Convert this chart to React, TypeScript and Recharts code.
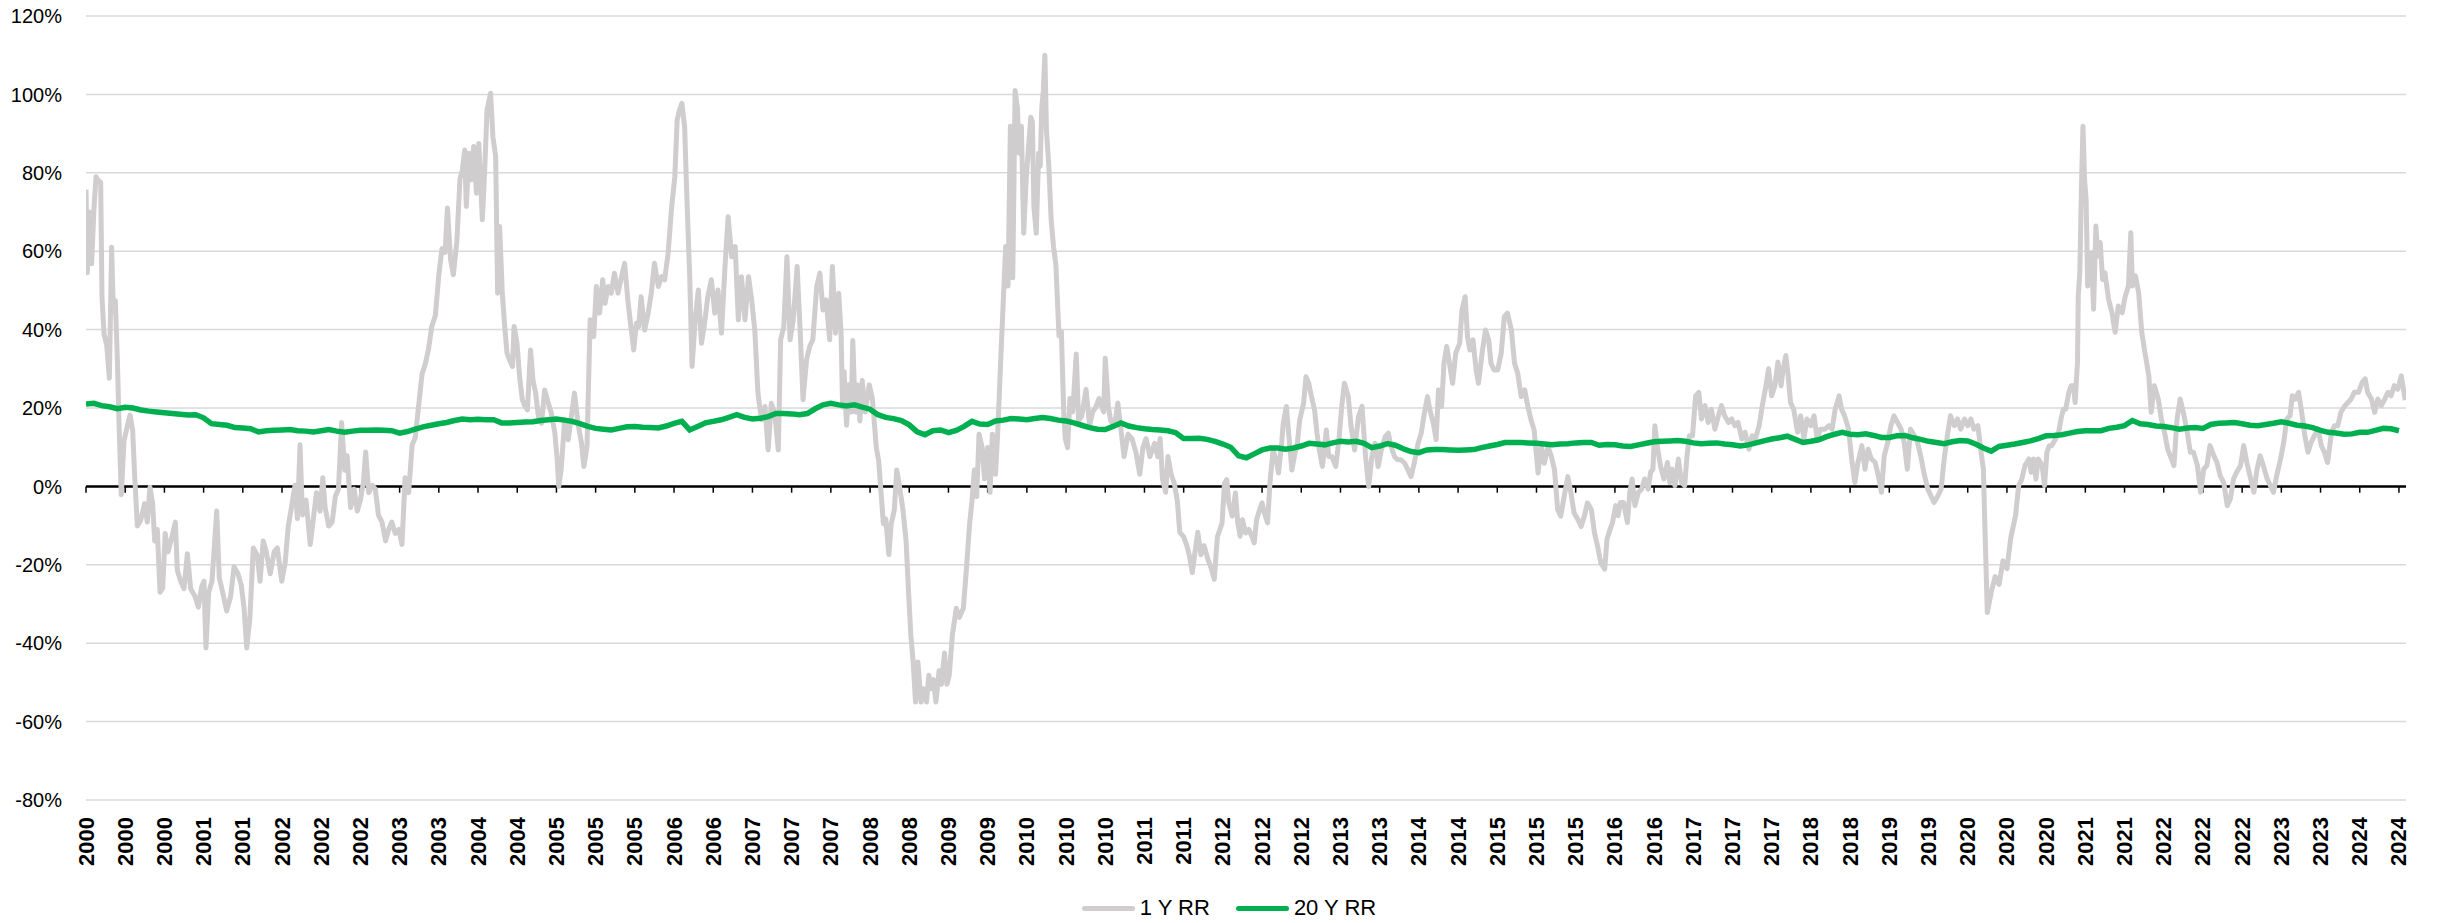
import { CartesianGrid, Legend, Line, LineChart, ReferenceLine, XAxis, YAxis } from "recharts";

document.body.style.margin = "0";

const START_YEAR = 2000;
const FONT = "'Liberation Sans', Arial, sans-serif";

// y axis (percent)
const yTicks = [-80, -60, -40, -20, 0, 20, 40, 60, 80, 100, 120];

// x axis: months since Jan 2000, a tick every 5 months
const monthTicks = Array.from({ length: 60 }, (_, i) => i * 5);

// 1 Y rolling return, [months since Jan 2000, %]
const oneYearRR: [number, number][] = [
  [0, 75.7], [0.17, 54.5], [0.43, 70], [0.72, 56.8], [1.02, 71], [1.28, 79], [1.57, 78], [1.87, 77.6], [2.04, 48.4], [2.3, 38.9],
  [2.64, 36.1], [2.98, 27.6], [3.27, 61], [3.49, 44.6], [3.74, 47.4], [4.0, 32.3], [4.25, 13.5], [4.5, -2.1], [4.85, 11.6], [5.27, 15.4],
  [5.61, 18.2], [5.95, 14.4], [6.2, 3.1], [6.55, -10.1], [6.97, -8.7], [7.48, -4.4], [7.82, -9.1], [8.16, -0.2], [8.5, -4.4], [8.76, -13.9],
  [9.1, -11], [9.44, -27], [9.78, -26], [10.1, -12], [10.46, -16.7], [10.97, -12.9], [11.4, -9.1], [11.65, -21.4], [12.07, -24.2], [12.5, -26.1],
  [12.93, -17.2], [13.35, -26.1], [13.9, -28], [14.33, -30.8], [14.75, -25.6], [15.05, -24.2], [15.3, -41.2], [15.65, -27], [16.07, -24.2], [16.45, -12.9],
  [16.67, -6.3], [17, -23.3], [17.43, -27], [17.94, -31.8], [18.45, -28], [18.88, -20.5], [19.39, -22.3], [19.8, -25.2], [20.15, -30.8], [20.5, -41.2],
  [20.9, -33.6], [21.34, -15.7], [21.85, -17.6], [22.2, -24.2], [22.6, -13.9], [23, -16.7], [23.5, -22.3], [24, -16.7], [24.4, -15.7], [24.96, -24.2],
  [25.4, -19.5], [25.8, -10.1], [26.2, -5.4], [26.66, 0.3], [26.96, -8.2], [27.3, 10.6], [27.6, -7.3], [28.06, -3.5], [28.6, -14.8], [29, -8.2],
  [29.4, -1.6], [29.85, -6.3], [30.2, 2.2], [30.5, -5.4], [30.95, -10.1], [31.4, -9.1], [31.8, -2.5], [32.2, -0.7], [32.6, 16.3], [33, 4.1],
  [33.3, 7.8], [33.75, -5.4], [34.2, -0.7], [34.6, -6.3], [35, -3.5], [35.4, 1.2], [35.67, 8.8], [36.05, -1.6], [36.5, 0.3], [36.9, -0.7],
  [37.3, -7.3], [37.75, -9.1], [38.2, -13.9], [38.6, -11], [39, -9.1], [39.45, -12], [39.9, -11], [40.3, -14.8], [40.7, 2.2], [41.15, -1.6],
  [41.6, 10.6], [42, 12.5], [42.4, 20.1], [42.86, 28.6], [43.3, 31.4], [43.7, 35.2], [44.1, 40.8], [44.56, 43.6], [45, 54], [45.4, 60.6],
  [45.8, 59.7], [46.1, 71], [46.5, 57.8], [46.85, 54], [47.3, 62.5], [47.7, 78.5],
  [48, 80.7], [48.3, 85.8], [48.5, 71.4], [48.85, 85], [49.15, 78.2], [49.45, 86.7], [49.8, 74.8], [50.1, 87.5], [50.55, 68], [50.85, 80.7],
  [51.15, 96], [51.6, 100.3], [51.9, 89.2], [52.25, 84.1], [52.5, 49.3], [52.75, 66.3], [53.1, 49.3], [53.4, 40.8], [53.7, 34], [54, 32.3],
  [54.4, 30.6], [54.6, 40.8], [54.97, 36.5], [55.3, 28], [55.65, 22.1], [56, 20.4], [56.3, 19.5], [56.7, 34.8], [57, 27.2], [57.35, 23.8],
  [57.7, 17.8], [58.1, 16.1], [58.5, 24.6], [58.97, 21.2], [59.35, 18.7], [59.8, 13.6], [60.1, 6.8], [60.3, 0], [60.6, 4.2], [61.05, 17],
  [61.5, 11.9], [61.9, 17.8], [62.3, 23.8], [62.75, 16.1], [63.2, 11], [63.5, 5.1], [63.9, 10.2], [64.3, 42.5], [64.75, 38.2], [65.1, 51],
  [65.5, 44.2], [65.9, 52.7], [66.2, 46.7], [66.6, 51], [67, 49.3], [67.4, 54.4], [67.85, 49.3], [68.3, 53.5], [68.7, 56.9], [69.1, 47.6],
  [69.55, 39.9], [69.85, 34.8], [70.2, 41.6], [70.5, 40.8], [70.8, 48.4], [71.25, 39.9], [71.7, 44.2], [72.1, 49.3], [72.5, 56.9], [73, 51],
  [73.4, 53.5], [73.8, 52.7], [74.25, 59.5], [74.66, 70.5], [75.1, 79], [75.4, 93.5], [75.7, 96], [76, 97.7], [76.35, 91.8], [76.65, 73.1],
  [77, 53.5], [77.3, 30.6], [77.7, 42.5], [78.1, 50.1], [78.5, 36.5], [78.9, 41.6], [79.3, 48.4], [79.76, 52.7], [80.2, 44.2], [80.6, 50.1],
  [81.05, 39.1], [81.5, 56.1], [81.9, 68.8], [82.35, 58.6], [82.8, 61.2], [83.2, 42.5], [83.6, 53.5], [84.05, 42.5], [84.5, 53.5], [84.9, 47.6],
  [85.3, 39.9], [85.7, 23.8], [86.15, 17], [86.6, 20.4], [87, 9.3], [87.4, 21.2], [87.84, 18.7], [88.3, 9.3], [88.6, 37.4], [89, 40.8],
  [89.4, 58.6], [89.8, 37.4], [90.2, 42.5], [90.7, 56.1], [91.1, 39.1], [91.45, 22.1], [91.9, 32.3], [92.3, 35.7], [92.7, 37.4], [93.2, 51],
  [93.6, 54.4], [94, 45], [94.4, 47.6], [94.85, 37.4], [95.2, 56.1], [95.6, 39.1], [96, 49.3],
  [96.3, 39.5], [96.5, 20.2], [96.7, 29.3], [97, 15.6], [97.3, 25.9], [97.6, 19], [97.8, 37.2], [98.1, 19], [98.4, 25.9], [98.7, 16.7],
  [99, 27], [99.4, 19], [99.9, 25.9], [100.3, 22.4], [100.8, 9.9], [101.1, 6.5], [101.4, -1.5], [101.7, -9.5], [102, -8.3], [102.4, -17.4],
  [102.7, -9.5], [103.1, -6], [103.4, 4.2], [103.7, 0.8], [104.2, -6], [104.6, -14], [104.9, -26.5], [105.2, -37.9], [105.5, -44.8], [105.8, -55],
  [106.1, -44.8], [106.5, -55], [106.8, -51.6], [107.2, -55], [107.5, -48.2], [107.8, -51.6], [108.1, -49.3], [108.4, -55], [108.8, -47], [109.1, -50.5],
  [109.5, -42.5], [109.8, -50.5], [110.1, -48.2], [110.5, -37.9], [111, -31.1], [111.4, -33.4], [111.9, -31.1], [112.3, -20.8], [112.7, -9.5], [113, -3.8],
  [113.3, 4.2], [113.6, -2.6], [113.9, 13.3], [114.3, 9.9], [114.6, 1.9], [115, 9.9], [115.3, -1.5], [115.6, 13.3], [116, 3.1], [116.3, 14.5],
  [116.7, 33.8], [117, 47.5], [117.3, 61.2], [117.6, 51.1], [117.9, 91.9], [118.2, 53.2], [118.5, 101], [118.8, 96.5], [119, 85], [119.3, 91.9],
  [119.6, 64.6], [119.9, 78.2], [120.2, 86.2], [120.5, 94.2], [120.7, 93], [120.9, 71.4], [121.2, 64.6], [121.5, 85], [121.7, 81.7], [121.9, 96.5],
  [122.1, 101], [122.3, 110], [122.5, 90.8], [122.8, 81.7], [123.1, 68], [123.4, 61.2], [123.7, 56.6], [124.1, 38.4], [124.4, 39.5], [124.7, 19],
  [124.9, 12.2], [125.2, 9.9], [125.5, 22.4], [125.85, 19], [126.3, 33.8], [126.6, 16.7], [127, 17.9], [127.55, 24.7], [128, 15.6], [128.4, 19],
  [128.8, 20.2], [129.2, 22.4], [129.8, 19], [130, 32.7], [130.4, 20.2], [130.7, 16.7], [131.2, 15.6], [131.6, 21.3], [132, 14.5], [132.4, 7.6],
  [132.9, 13.3], [133.4, 12.2], [133.9, 8.8], [134.4, 3.1], [134.8, 9.9], [135.2, 12.2], [135.7, 7.6], [136.3, 11], [136.7, 7.6], [137, 12.2],
  [137.3, 1.9], [137.7, -1.5], [138, 7.6], [138.4, 3.1], [138.8, 0.8], [139.2, -3.8], [139.5, -11.7], [140, -12.9], [140.4, -15.1], [140.7, -17.4],
  [141.1, -22], [141.4, -17.4], [141.8, -11.7], [142.2, -17.4], [142.6, -15.1], [143.1, -18.6], [143.5, -20.8], [143.9, -23.7], [144.3, -12.9],
  [144.9, -9.3], [145.2, 0.8], [145.5, 1.7], [145.75, -4.2], [146.2, -7.6], [146.6, -1.7], [146.9, -9.3], [147.2, -12.7], [147.5, -8.5], [147.9, -11.9],
  [148.3, -11], [148.7, -12.7], [149, -14.4], [149.3, -8.5], [149.7, -5.9], [150, -4.2], [150.3, -6.8], [150.7, -9.3], [151, 0.8], [151.4, 9.3],
  [151.8, 6.8], [152.1, 3.4], [152.5, 11], [152.7, 16.1], [153.1, 20.4], [153.5, 11], [153.8, 4.2], [154.2, 8.5], [154.5, 11], [154.8, 17],
  [155.3, 21.2], [155.6, 28], [155.95, 26.3], [156.3, 22.9], [156.7, 19.5], [157, 13.6], [157.3, 9.3], [157.7, 5.1], [158.2, 14.4], [158.5, 7.6],
  [158.9, 7.6], [159.4, 5.1], [159.8, 11.9], [160.2, 21.2], [160.5, 26.3], [161, 22.9], [161.35, 15.3], [161.8, 9.3], [162.3, 17.8], [162.75, 20.4],
  [163.2, 7.6], [163.6, 0], [164, 7.6], [164.4, 11], [164.8, 5.1], [165.2, 9.3], [165.7, 12.7], [166.1, 13.6], [166.45, 10.2], [166.9, 7.6],
  [167.3, 6.8], [167.7, 6.8], [168.2, 5.9], [168.6, 4.2], [169, 2.5], [169.4, 5.9], [169.9, 11], [170.3, 13.6], [170.7, 18.7], [171.1, 22.9],
  [171.4, 19.5], [171.85, 16.1], [172.2, 11.9], [172.5, 24.6], [172.9, 20.4], [173.2, 31.4], [173.55, 35.7], [173.9, 31.4], [174.3, 26.3], [174.7, 34],
  [175.2, 36.5], [175.5, 45], [175.9, 48.4], [176.2, 38.2], [176.5, 34.8], [176.9, 37.4], [177.3, 29.7], [177.6, 26.3], [178.06, 34], [178.5, 39.9],
  [178.9, 37.4], [179.2, 31.4], [179.6, 29.7], [180.05, 29.7], [180.5, 34], [180.9, 43.3], [181.3, 44.2], [181.8, 39.9], [182.2, 31.4], [182.6, 28.9],
  [183.05, 22.9], [183.5, 24.6], [183.9, 20.4], [184.3, 17], [184.7, 14.4], [185.2, 3.4], [185.6, 10.2], [186, 5.9], [186.45, 10.2], [186.9, 7.6],
  [187.3, 4.2], [187.7, -5.9], [188.1, -7.6], [188.6, -1.7], [189, 2.5], [189.4, -1.7], [189.8, -6.8], [190.3, -8.5], [190.7, -10.2], [191.1, -7.6],
  [191.5, -4.2], [192, -5.9], [192.4, -11.9], [192.8, -15.3], [193.2, -19.5],
  [193.7, -21.1], [194, -13.4], [194.4, -10.9], [194.7, -9.2], [195.1, -4.9], [195.4, -7.5], [195.7, -4.1], [196.1, -4.1], [196.6, -9.2], [196.9, -1.5],
  [197.2, 1.9], [197.55, -4.9], [198, -1.5], [198.4, -0.7], [198.8, 1.9], [199.25, -0.7], [199.55, 3.6], [199.85, 4.4], [200.1, 15.5], [200.4, 10.4],
  [200.8, 5.3], [201.25, 1.9], [201.7, 6.1], [202, 1], [202.3, 4.4], [202.65, 0.2], [203.1, 7], [203.5, 1], [203.9, 0.2], [204.2, 7.8],
  [204.5, 12.9], [204.9, 12.9], [205.3, 23.1], [205.7, 24], [206.05, 17.2], [206.5, 20.6], [206.9, 16.3], [207.3, 19.7], [207.75, 14.6], [208.2, 18],
  [208.6, 20.6], [209, 18], [209.5, 16.3], [209.9, 17.2], [210.3, 15.5], [210.7, 16.3], [211.2, 12.1], [211.6, 13.8], [212.1, 9.5], [212.5, 12.9],
  [212.9, 12.1], [213.4, 15.5], [213.8, 20.6], [214.2, 24.9], [214.6, 30], [215, 23.1], [215.4, 25.7], [215.8, 31.7], [216.2, 25.7], [216.4, 29.1],
  [216.8, 33.4], [217.1, 28.3], [217.4, 21.4], [217.8, 19.7], [218.3, 13.8], [218.7, 18], [219.1, 12.1], [219.5, 17.2], [220, 15.5], [220.4, 18],
  [220.8, 12.1], [221.2, 14.6], [221.8, 14.6], [222.3, 15.5], [222.7, 14.6], [223.1, 19.7], [223.6, 23.1], [223.9, 19.7], [224.3, 18], [224.8, 14.6],
  [225.2, 7], [225.6, 1], [226, 6.1], [226.5, 10.4], [226.9, 4.4], [227.3, 9.5], [227.7, 7], [228.2, 6.1], [228.6, 2.7], [229, -1.5],
  [229.35, 7.8], [229.8, 11.2], [230.2, 15.5], [230.6, 18], [231.05, 16.3], [231.5, 14.6], [231.9, 11.2], [232.3, 4.4], [232.7, 14.6], [233.2, 12.9],
  [233.6, 11.2], [234, 7.8], [234.4, 3.6], [234.9, -0.7], [235.3, -2.4], [235.7, -4.1], [236.2, -2.4], [236.6, -0.7], [237, 7], [237.4, 12.9],
  [237.8, 18], [238.3, 15.5], [238.7, 17.2], [239.1, 14.6], [239.6, 17.2], [240, 15.5], [240.4, 17.2], [240.8, 14.6], [241.3, 15.5], [241.7, 8.7],
  [242, 4.4], [242.2, -10.9], [242.5, -32.2], [243, -27], [243.5, -23], [244, -25], [244.5, -19], [245, -21], [245.5, -13],
  [246.1, -7.5], [246.5, 0.2], [246.9, 1.9], [247.3, 5.3], [247.8, 7], [248.1, 3.6], [248.4, 7], [248.7, 1.9], [249, 7], [249.5, 5.3],
  [249.8, 0.2], [250.1, 8.7], [250.4, 10.4], [250.7, 10.4], [251.2, 12.1], [251.6, 13.8], [251.9, 17.2], [252.2, 19.7], [252.5, 19.7], [252.9, 24],
  [253.2, 25.7], [253.5, 25.7], [253.7, 21.4], [254, 31.6], [254.1, 48.6], [254.3, 54.5], [254.5, 75.8], [254.7, 91.9], [254.9, 78.3], [255.1, 73.2],
  [255.3, 51.1], [255.6, 54.5], [255.8, 59.6], [256.05, 45.2], [256.35, 66.4], [256.6, 58.8], [256.9, 62.2], [257.2, 52.8], [257.5, 54.5], [257.97, 47.7],
  [258.4, 44.3], [258.8, 39.3], [259.2, 46], [259.7, 44.3], [260.1, 48.6], [260.5, 51.1], [260.8, 64.7], [261, 51.1], [261.4, 53.7], [261.8, 49.4],
  [262.2, 39.3], [262.6, 34.2], [263.1, 28.2], [263.4, 18.9], [263.8, 25.7], [264.3, 22.3], [264.7, 17.2], [265.1, 13.8], [265.5, 9.5], [266, 7],
  [266.3, 5.3], [266.7, 17.2], [267.1, 22.3], [267.5, 18.9], [268, 13.8], [268.4, 8.7], [268.8, 8.7], [269.3, 5.3], [269.7, -1.5], [270.1, 4.4],
  [270.5, 5.3], [270.9, 10.4], [271.4, 7.8], [271.8, 6.1], [272.2, 2.7], [272.65, 1], [273.1, -4.9], [273.5, -3.2], [273.9, 1.9], [274.3, 3.6],
  [274.8, 5.3], [275.2, 10.4], [275.6, 6.1], [276, 2.7], [276.5, -1.5], [276.9, 4.4], [277.3, 7.8], [277.7, 5.3], [278.2, 1.9], [278.6, 0.2],
  [279, -1.5], [279.4, 2.7], [279.9, 7], [280.3, 11.2], [280.7, 17.2], [281.1, 18], [281.4, 23.1], [281.8, 22.3], [282.2, 24], [282.6, 18.9],
  [283, 12.9], [283.4, 8.7], [283.8, 11.2], [284.2, 12.9], [284.7, 14.6], [285.1, 10.4], [285.5, 8.7], [285.9, 6.1], [286.4, 13.8], [286.8, 15.5],
  [287.2, 15.5], [287.6, 18.9], [288.1, 20.6], [288.5, 21.4], [288.9, 22.3], [289.3, 24], [289.85, 24], [290.3, 26.5], [290.7, 27.4], [291, 24],
  [291.5, 22.3], [291.9, 18.9], [292.3, 22.3], [292.75, 20.6], [293.2, 22.3], [293.6, 24], [294, 23.1], [294.4, 25.7], [294.85, 24.8], [295.3, 28.2],
  [295.8, 22],
];

// 20 Y rolling return, % — one value per month from Jan 2000
const twentyYearRR = [
  21, 21.2, 20.6, 20.3, 19.8, 20.2, 20, 19.5, 19.2, 19, 18.8, 18.6, 18.4, 18.2, 18.3, 17.5, 16, 15.8, 15.6, 15,
  14.9, 14.7, 13.9, 14.2, 14.3, 14.4, 14.5, 14.2, 14.1, 13.9, 14.2, 14.5, 14.1, 13.8, 14.1, 14.3, 14.3, 14.4, 14.3, 14.2,
  13.6, 14, 14.6, 15.2, 15.6, 16, 16.3, 16.8, 17.2, 17, 17.1, 17, 17, 16.2, 16.2, 16.3, 16.4, 16.5, 16.8, 17,
  17.2, 16.9, 16.6, 16, 15.3, 14.8, 14.6, 14.4, 14.8, 15.2, 15.3, 15.1, 15, 14.9, 15.4, 16.1, 16.6, 14.4, 15.3, 16.2,
  16.6, 17, 17.6, 18.3, 17.6, 17.2, 17.4, 17.8, 18.6, 18.6, 18.5, 18.3, 18.6, 19.8, 20.8, 21.2, 20.8, 20.5, 20.8, 20.2,
  19.7, 18.3, 17.6, 17.3, 16.8, 15.7, 13.9, 13.2, 14.2, 14.4, 13.7, 14.3, 15.3, 16.6, 15.9, 15.8, 16.7, 16.9, 17.3, 17.2,
  17, 17.3, 17.6, 17.3, 16.9, 16.7, 16.2, 15.6, 15, 14.6, 14.5, 15.3, 16.2, 15.4, 15, 14.7, 14.5, 14.4, 14.2, 13.7,
  12.2, 12.2, 12.3, 12, 11.5, 10.8, 10, 7.8, 7.3, 8.3, 9.3, 9.8, 9.8, 9.5, 9.8, 10.3, 11, 10.8, 10.6, 11.1,
  11.5, 11.3, 11.5, 11, 9.9, 10.3, 10.9, 10.5, 9.6, 8.9, 8.6, 9.3, 9.4, 9.4, 9.3, 9.2, 9.3, 9.4, 9.9, 10.3,
  10.7, 11.2, 11.2, 11.2, 11.1, 11, 10.8, 10.6, 10.8, 10.9, 11.1, 11.2, 11.2, 10.5, 10.7, 10.6, 10.3, 10.2, 10.6, 11,
  11.4, 11.5, 11.6, 11.7, 11.5, 11.1, 10.9, 11, 11.1, 10.8, 10.6, 10.3, 10.6, 11.1, 11.6, 12.1, 12.4, 12.8, 12, 11.2,
  11.5, 11.9, 12.7, 13.3, 13.8, 13.3, 13.2, 13.4, 13, 12.5, 12.5, 12.9, 13, 12.4, 12, 11.5, 11.2, 10.9, 11.4, 11.7,
  11.6, 10.8, 9.8, 9, 10.2, 10.5, 10.8, 11.2, 11.6, 12.2, 12.9, 13, 13.2, 13.6, 14, 14.2, 14.2, 14.2, 14.8, 15.1,
  15.5, 16.8, 16, 15.8, 15.4, 15.3, 15, 14.6, 14.9, 15, 14.8, 15.8, 16.1, 16.2, 16.3, 16, 15.6, 15.5, 15.8, 16.1,
  16.5, 16.1, 15.6, 15.4, 15, 14.3, 13.8, 13.6, 13.3, 13.4, 13.8, 13.8, 14.3, 14.8, 14.7, 14.2,
];

const oneYearData = oneYearRR.map(([m, v]) => ({ m, v }));
const twentyYearData = twentyYearRR.map((v, m) => ({ m, v }));

function YearTick({ x, y, payload }: any) {
  const year = START_YEAR + Math.floor(payload.value / 12);
  return (
    <text
      x={x}
      y={y}
      transform={`rotate(-90, ${x}, ${y})`}
      textAnchor="end"
      dominantBaseline="central"
      fontFamily={FONT}
      fontWeight="bold"
      fontSize={22}
      fill="#000"
    >
      {year}
    </text>
  );
}

function LegendContent({ payload }: any) {
  return (
    <div
      style={{
        display: "flex",
        justifyContent: "center",
        alignItems: "center",
        height: 30,
        paddingLeft: 52,
        fontFamily: FONT,
        fontSize: 22,
        color: "#000",
      }}
    >
      {(payload || []).map((p: any, i: number) => (
        <div key={p.value} style={{ display: "flex", alignItems: "center", marginLeft: i ? 26 : 0 }}>
          <span
            style={{
              display: "inline-block",
              width: 53,
              height: 5,
              borderRadius: 3,
              background: p.color,
              marginRight: 5,
            }}
          />
          <span>{p.value}</span>
        </div>
      ))}
    </div>
  );
}

export default function App() {
  return (
    <LineChart width={2450} height={923} margin={{ top: 16, right: 44, bottom: 0, left: 0 }}>
      <CartesianGrid vertical={false} stroke="#d9d9d9" strokeWidth={1.5} />
      <XAxis
        type="number"
        dataKey="m"
        domain={[0, 295.9]}
        ticks={monthTicks}
        interval={0}
        allowDataOverflow
        axisLine={false}
        tickLine={false}
        tickSize={0}
        tickMargin={17}
        height={93}
        tick={<YearTick />}
      />
      <YAxis
        domain={[-80, 120]}
        ticks={yTicks}
        width={86}
        axisLine={false}
        tickLine={false}
        tickSize={0}
        tickMargin={24}
        tickFormatter={(v) => `${v}%`}
        tick={{ fill: "#000", fontSize: 20, fontFamily: FONT }}
      />
      <ReferenceLine y={0} stroke="#000" strokeWidth={2.5} />
      {monthTicks.map((m) => (
        <ReferenceLine
          key={m}
          segment={[
            { x: m, y: 0 },
            { x: m, y: -1.6 },
          ]}
          stroke="#000"
          strokeWidth={1.5}
        />
      ))}
      <Line
        data={oneYearData}
        dataKey="v"
        name="1 Y RR"
        stroke="#cfcdcd"
        strokeWidth={5}
        strokeLinejoin="round"
        dot={false}
        isAnimationActive={false}
      />
      <Line
        data={twentyYearData}
        dataKey="v"
        name="20 Y RR"
        stroke="#00b050"
        strokeWidth={5.5}
        dot={false}
        isAnimationActive={false}
      />
      <Legend verticalAlign="bottom" content={<LegendContent />} />
    </LineChart>
  );
}
